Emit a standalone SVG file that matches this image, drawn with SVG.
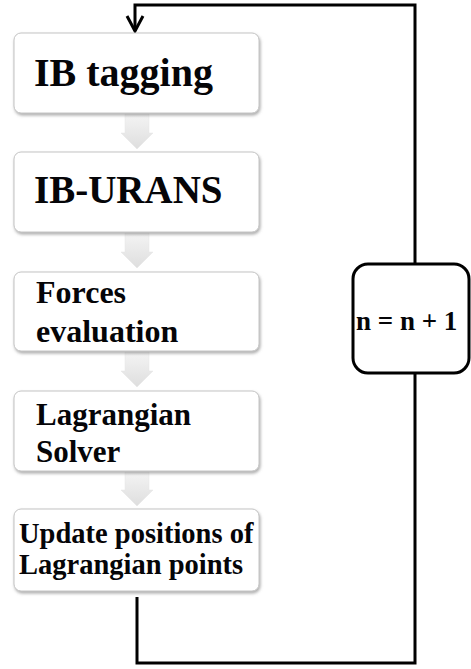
<svg xmlns="http://www.w3.org/2000/svg" width="471" height="669" viewBox="0 0 471 669">
<style>
.box{fill:#fff;stroke:#c4c4c4;stroke-width:1;filter:url(#sh)}
.t{font-family:"Liberation Serif","Times New Roman",serif;font-weight:bold;fill:#050508}
.chev{fill:url(#g);stroke:#e4e4e4;stroke-width:0.5}
.conn{fill:none;stroke:#000;stroke-width:3}
</style>
<defs>
<filter id="sh" x="-10%" y="-10%" width="120%" height="130%">
<feDropShadow dx="1" dy="2" stdDeviation="1.5" flood-color="#777" flood-opacity="0.6"/>
</filter>
<linearGradient id="g" x1="0" y1="0" x2="0" y2="1">
<stop offset="0" stop-color="#f4f4f4"/>
<stop offset="1" stop-color="#dedede"/>
</linearGradient>
</defs>
<g id="connectors">
<path class="conn" d="M137 597 V663 H415 V5 H135 V31"/>
<polyline class="conn" points="127,16 135,31 143,16"/>
<polygon class="chev" points="125,114 149,114 149,133 153,133 137,149 121,133 125,133"/>
<polygon class="chev" points="125,233 149,233 149,252 153,252 137,268 121,252 125,252"/>
<polygon class="chev" points="125,352 149,352 149,371 153,371 137,387 121,371 125,371"/>
<polygon class="chev" points="125,472 149,472 149,490 153,490 137,506 121,490 125,490"/>
</g>
<g id="node1">
<rect class="box" x="14" y="33" width="245" height="80" rx="7"/>
<text class="t" x="34" y="86" font-size="40">IB tagging</text>
</g>
<g id="node2">
<rect class="box" x="14" y="152" width="245" height="80" rx="7"/>
<text class="t" x="34" y="203" font-size="39">IB-URANS</text>
</g>
<g id="node3">
<rect class="box" x="14" y="272" width="245" height="79" rx="7"/>
<text class="t" x="36" y="303" font-size="32">Forces</text>
<text class="t" x="36" y="342" font-size="32">evaluation</text>
</g>
<g id="node4">
<rect class="box" x="14" y="391" width="245" height="80" rx="7"/>
<text class="t" x="36" y="425" font-size="31">Lagrangian</text>
<text class="t" x="36" y="462" font-size="31">Solver</text>
</g>
<g id="node5">
<rect class="box" x="14" y="509" width="245" height="82" rx="7"/>
<text class="t" x="19" y="543" font-size="28.5">Update positions of</text>
<text class="t" x="19" y="574" font-size="28.5">Lagrangian points</text>
</g>
<g id="node6">
<rect x="353" y="264" width="116" height="109" rx="15" fill="#fff" stroke="#000" stroke-width="3"/>
<text class="t" x="356" y="330" font-size="27">n = n + 1</text>
</g>
</svg>
